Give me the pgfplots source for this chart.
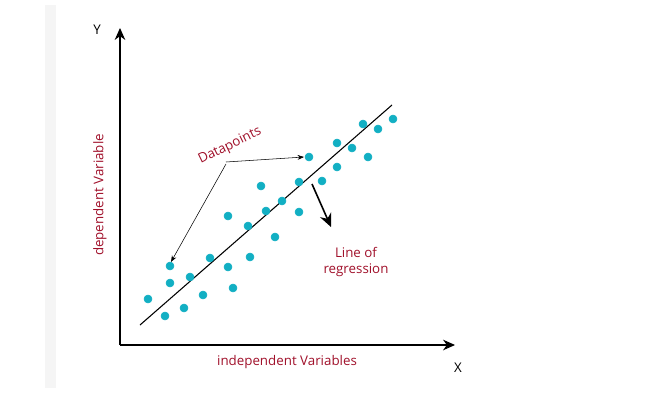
\documentclass[border=0pt]{standalone}
\usepackage{pgfplots}
\pgfplotsset{compat=1.18}
\usepackage{fontspec}
\setmainfont{Open Sans}
\usetikzlibrary{arrows.meta}
\definecolor{dred}{HTML}{A0102A}
\definecolor{teal}{HTML}{12AFC3}
\begin{document}
\begin{tikzpicture}
\begin{axis}[scale only axis, width=504pt, height=300pt, xmin=0, xmax=672, ymin=0, ymax=400, y dir=reverse, axis lines=none, clip=false]
\path (axis cs:0,0) rectangle (axis cs:672,400);
\fill[gray!8] (axis cs:45,5) rectangle (axis cs:56,388);
\draw[thick,-{Stealth[length=9pt,width=8pt]}] (axis cs:120,345) -- (axis cs:120,28);
\draw[thick,-{Stealth[length=9pt,width=8pt]}] (axis cs:120,345) -- (axis cs:455,345);
\node at (axis cs:97,30) {Y};
\node at (axis cs:458,368) {X};
\node[dred] at (axis cs:287,362) {independent Variables};
\node[dred,rotate=90] at (axis cs:100,195) {dependent Variable};
\draw[thick] (axis cs:140,325) -- (axis cs:392,105);
\addplot[only marks, mark=*, mark size=3pt, teal] coordinates {
(148,299)(165,316)(170,266)(170,283)(184,308)(190,277)(203,295)(210,258)(228,267)(228,216)(233,288)(248,226)(250,257)(261,186)(266,211)(275,237)(282,201)(299,182)(299,212)(309,157)(322,181)(337,143)(337,167)(352,148)(363,124)(368,157)(378,129)(393,119)};
\draw[-{Stealth}] (axis cs:226,164) -- (axis cs:171,262);
\draw[-{Stealth}] (axis cs:226,162) -- (axis cs:304,157);
\node[dred,rotate=26] at (axis cs:230,146) {Datapoints};
\draw[very thick,-{Stealth[length=10pt,width=9pt]}] (axis cs:312,184) -- (axis cs:331,227);
\node[dred,align=center] at (axis cs:356,262) {Line of\\regression};
\end{axis}
\end{tikzpicture}
\end{document}
